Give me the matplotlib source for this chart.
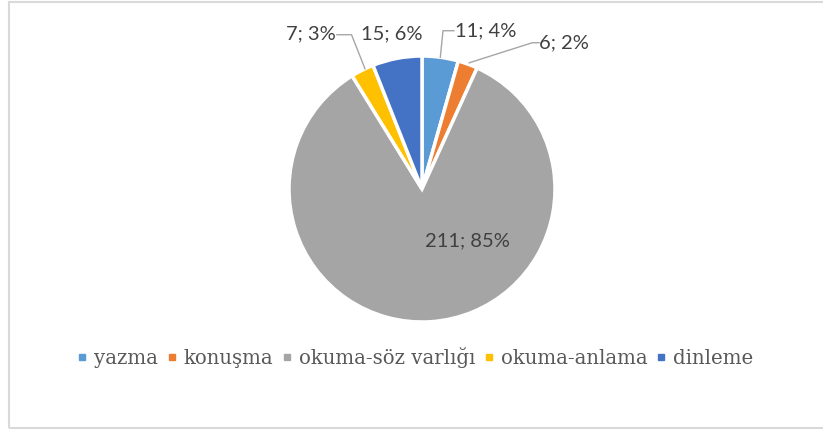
import numpy as np
import matplotlib.pyplot as plt
from matplotlib.lines import Line2D
from matplotlib.patches import Rectangle

categories = ['yazma', 'konuşma', 'okuma-söz varlığı', 'okuma-anlama', 'dinleme']
values = [11, 6, 211, 7, 15]
percents = [4, 2, 85, 3, 6]
colors = ['#5B9BD5', '#ED7D31', '#A5A5A5', '#FFC000', '#4472C4']

W, H = 823, 430
fig = plt.figure(figsize=(W / 100, H / 100), dpi=100)

# light gray chart frame
fig.patches.append(Rectangle((9 / W, 2 / H), 1.0, 426 / H, transform=fig.transFigure,
                             fill=False, edgecolor='#D9D9D9', linewidth=1.5))

# pie centre ~ (422, 189) px, radius ~133 px
cx, cy, r = 422, 189, 133
ax = fig.add_axes([(cx - r) / W, (H - cy - r) / H, 2 * r / W, 2 * r / H])
wedges, _ = ax.pie(values, colors=colors, startangle=90, counterclock=False,
                   wedgeprops=dict(edgecolor='white', linewidth=2.5))
ax.set_xlim(-1, 1)
ax.set_ylim(-1, 1)
ax.set_aspect('auto')
for w in wedges:
    w.set_clip_on(False)

lab_font = dict(family='Lato', fontsize=14.5, color='#404040')
labels = ['%d; %d%%' % (v, p) for v, p in zip(values, percents)]

# edge points at middle of each slice
total = sum(values)
cum = np.cumsum([0] + values)
mids = [90 - (cum[i] + values[i] / 2) / total * 360 for i in range(len(values))]
edge = [(np.cos(np.radians(a)), np.sin(np.radians(a))) for a in mids]

# yazma
ex, ey = edge[0]
ax.plot([ex, ex + 0.02, 0.24], [ey, 1.19, 1.19], color='#A6A6A6', lw=1, clip_on=False)
ax.text(0.25, 1.19, labels[0], ha='left', va='center', **lab_font)
# konusma
ex, ey = edge[1]
ax.plot([ex + 0.01, 0.83, 0.88], [ey + 0.01, 1.10, 1.10], color='#A6A6A6', lw=1, clip_on=False)
ax.text(0.88, 1.10, labels[1], ha='left', va='center', **lab_font)
# okuma-anlama
ex, ey = edge[3]
ax.plot([-0.64, -0.53, ex + 0.02], [1.16, 1.16, ey + 0.01], color='#A6A6A6', lw=1, clip_on=False)
ax.text(-0.65, 1.17, labels[3], ha='right', va='center', **lab_font)
# dinleme
ax.text(-0.225, 1.17, labels[4], ha='center', va='center', **lab_font)
# okuma-soz varligi
ax.text(0.34, -0.39, labels[2], ha='center', va='center', **lab_font)

handles = [Line2D([], [], marker='s', linestyle='none', markersize=5,
                  markerfacecolor=c, markeredgecolor=c) for c in colors]
fig.legend(handles, categories, loc='center', bbox_to_anchor=(415 / W, 1 - 357 / H),
           ncol=5, frameon=False, handlelength=0.6, handletextpad=0.3, columnspacing=0.4,
           prop=dict(family='DejaVu Serif', size=14.2), labelcolor='#595959')

fig.savefig('out.png', dpi=100)
